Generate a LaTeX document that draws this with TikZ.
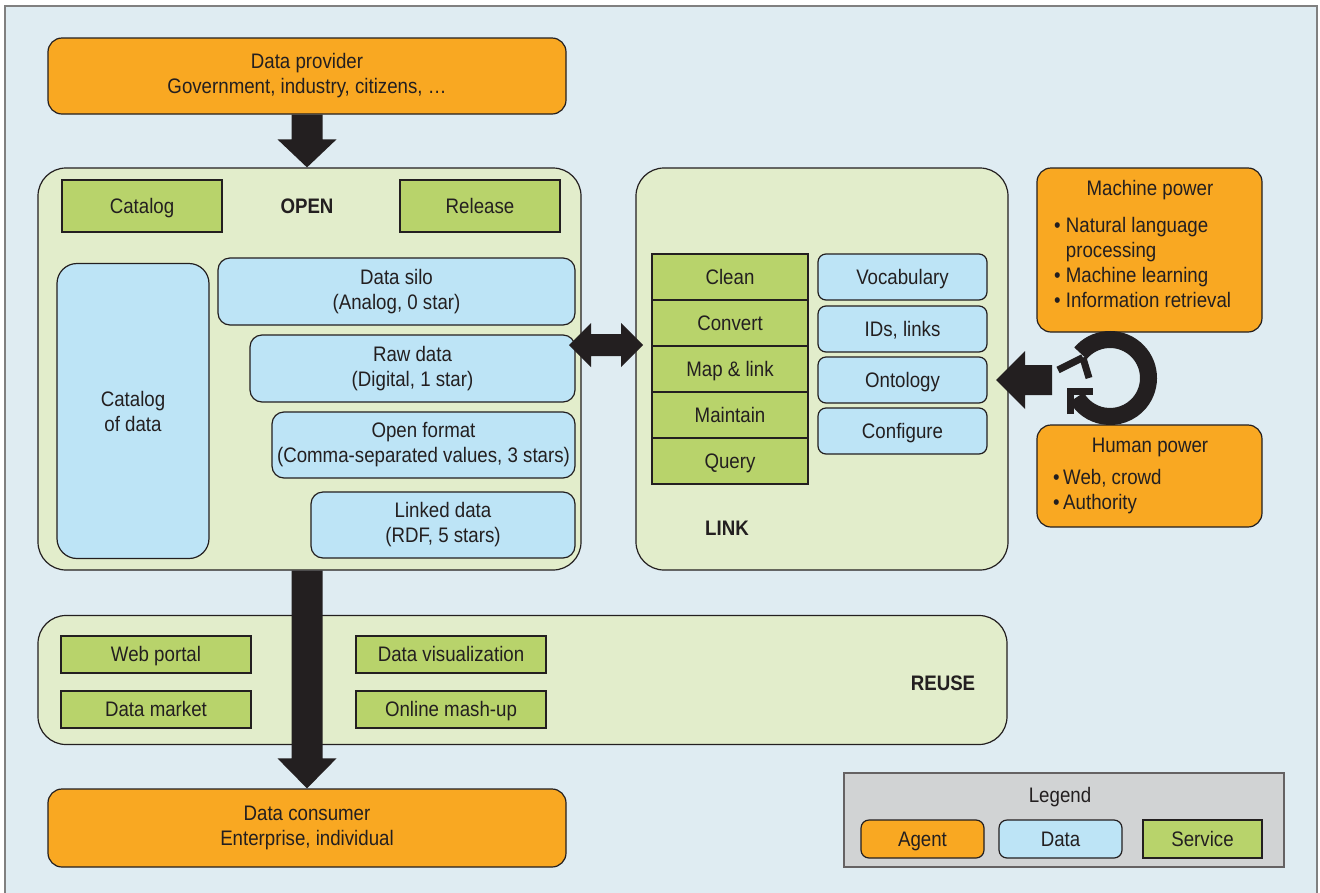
\documentclass[tikz,border=0pt]{standalone}
\usepackage{fontspec}
\setmainfont{Liberation Sans}[FakeStretch=0.89]
\usetikzlibrary{calc}
\definecolor{bgc}{HTML}{DFECF2}
\definecolor{agentc}{HTML}{F9A822}
\definecolor{datac}{HTML}{BDE4F6}
\definecolor{servc}{HTML}{B8D36B}
\definecolor{stagec}{HTML}{E2EDCB}
\definecolor{legendc}{HTML}{D1D3D4}
\definecolor{ink}{HTML}{231F20}
\tikzstyle{agent}=[rounded corners=14pt,draw=ink,fill=agentc,line width=1.2pt,align=center,inner sep=0pt]
\tikzstyle{databox}=[rounded corners=12pt,draw=ink,fill=datac,line width=1.2pt,align=center,inner sep=0pt]
\tikzstyle{service}=[draw=ink,fill=servc,line width=1.2pt,align=center,inner sep=0pt]
\tikzstyle{stage}=[rounded corners=28pt,draw=ink,fill=stagec,line width=1.2pt,inner sep=0pt]
\tikzstyle{oneline}=[text height=17pt,text depth=2.5pt]
\tikzstyle{title}=[font=\fontsize{21}{25}\selectfont\bfseries]

\begin{document}
\begin{tikzpicture}[x=1pt,y=-1pt,font=\fontsize{21}{25}\selectfont,text=ink]
		\useasboundingbox (0,0) rectangle (1320,892);
		\filldraw[fill=bgc,draw=gray,line width=1.2pt] (5,6) rectangle (1317,900);
		% agents
		\node[agent,minimum width=518pt,minimum height=76pt] (provider) at (307,76) {Data provider\\Government, industry, citizens, …};
		\node[agent,minimum width=518pt,minimum height=78pt] (consumer) at (307,828) {Data consumer\\Enterprise, individual};
		% open
		\node[stage,minimum width=543pt,minimum height=402pt] (open) at (309.5,369) {};
		\node[service,oneline,minimum width=160pt,minimum height=52pt] (catalog) at (142,206) {Catalog};
		\node[service,oneline,minimum width=160pt,minimum height=52pt] (release) at (480,206) {Release};
		\node[title,oneline] (openl) at (307,206) {OPEN};
		\node[databox,rounded corners=20pt,minimum width=152pt,minimum height=295pt] (catdata) at (133,411) {Catalog\\of data};
		\node[databox,minimum width=357pt,minimum height=67pt] (silo) at (396.5,291.5) {Data silo\\(Analog, 0 star)};
		\node[databox,minimum width=325pt,minimum height=67pt] (raw) at (412.5,368.5) {Raw data\\(Digital, 1 star)};
		\node[databox,minimum width=303pt,minimum height=66pt] (format) at (423.5,445) {Open format\\(Comma-separated values, 3 stars)};
		\node[databox,minimum width=264pt,minimum height=66pt] (linked) at (443,525) {Linked data\\(RDF, 5 stars)};
		% link
		\node[stage,minimum width=372pt,minimum height=402pt] (link) at (822,369) {};
		\foreach \name/\txt [count=\i from 0] in {clean/Clean,convert/Convert,map/Map \& link,maintain/Maintain,query/Query}
			\node[service,oneline,minimum width=156pt,minimum height=46pt] (\name) at (730,277+46*\i) {\txt};
		\node[databox,oneline,rounded corners=8pt,minimum width=169pt,minimum height=46pt] (vocab) at (902.5,277) {Vocabulary};
		\node[databox,oneline,rounded corners=8pt,minimum width=169pt,minimum height=46pt] (ids) at (902.5,329) {IDs, links};
		\node[databox,oneline,rounded corners=8pt,minimum width=169pt,minimum height=46pt] (onto) at (902.5,380) {Ontology};
		\node[databox,oneline,rounded corners=8pt,minimum width=169pt,minimum height=46pt] (config) at (902.5,431) {Configure};
		\node[title,oneline] (linkl) at (727,528) {LINK};
		% powers
		\node[agent,minimum width=225pt,minimum height=164pt] (machine) at (1149.5,250) {};
		\node[oneline] (machinet) at (1150,188) {Machine power};
		\node[align=left,inner sep=0pt,anchor=west] (machinel) at (1054,262) {• Natural language\\\phantom{• }processing\\• Machine learning\\• Information retrieval};
		\node[agent,minimum width=225pt,minimum height=102pt] (human) at (1149.5,476) {};
		\node[oneline] (humant) at (1150,445) {Human power};
		\node[align=left,inner sep=0pt,anchor=west] (humanl) at (1053,492) {•\,Web, crowd\\•\,Authority};
		% reuse
		\node[stage,minimum width=969pt,minimum height=129pt] (reuse) at (522.5,680) {};
		\node[service,oneline,minimum width=190pt,minimum height=37pt] (portal) at (156,654.5) {Web portal};
		\node[service,oneline,minimum width=190pt,minimum height=37pt] (market) at (156,709.5) {Data market};
		\node[service,oneline,minimum width=190pt,minimum height=37pt] (visual) at (451,654.5) {Data visualization};
		\node[service,oneline,minimum width=190pt,minimum height=37pt] (mashup) at (451,709.5) {Online mash-up};
		\node[title,oneline] (reusel) at (943,683) {REUSE};
		% legend
		\node[draw=ink!70,fill=legendc,line width=1.2pt,minimum width=440pt,minimum height=94pt] (legend) at (1064,820) {};
		\node[oneline] (legendt) at (1060,795) {Legend};
		\node[agent,oneline,rounded corners=8pt,minimum width=123pt,minimum height=38pt] (lagent) at (922.5,839) {Agent};
		\node[databox,oneline,rounded corners=8pt,minimum width=123pt,minimum height=38pt] (ldata) at (1060.5,839) {Data};
		\node[service,oneline,minimum width=119pt,minimum height=38pt] (lservice) at (1202.5,839) {Service};
		% arrows
		\fill[ink] ($(provider.south)+(-15.5,0)$) -- ($(provider.south |- open.north)+(-15.5,-28)$) -- ++(-14,0) -- (provider.south |- open.north) -- ++(29.5,-28) -- ++(-14,0) -- ($(provider.south)+(15.5,0)$) -- cycle;
		\fill[ink] ($(consumer.north |- open.south)+(-15.5,0)$) -- ($(consumer.north)+(-15.5,-30)$) -- ++(-14,0) -- (consumer.north) -- ++(29.5,-30) -- ++(-14,0) -- ($(consumer.north |- open.south)+(15.5,0)$) -- cycle;
		\coordinate (dl) at (569,345);
		\coordinate (dr) at (643,345);
		\fill[ink] (dl) -- ++(22,-22) -- ++(0,11) -- ($(dr)+(-22,-11)$) -- ++(0,-11) -- (dr) -- ++(-22,22) -- ++(0,-11) -- ($(dl)+(22,11)$) -- ++(0,11) -- cycle;
		\coordinate (ontin) at (996,380);
		\fill[ink] (ontin) -- ++(29,-29) -- ++(0,14) -- ++(27,0) -- ++(0,30) -- ++(-27,0) -- ++(0,14) -- cycle;
		\coordinate (loop) at (1110,378);
		\draw[ink,line width=17pt] ($(loop)+(-140:38.5)$) arc[start angle=-140,end angle=150,radius=38.5];
		\draw[ink,line width=7pt,line join=miter] (1070,414) -- (1070,391) -- (1093,391);
		\draw[ink,line width=7pt] ($(loop)+(-143:34)$) -- (1058,370);
		\draw[ink,line width=7pt] ($(loop)+(-143:34)$) -- (1089,378);
	\end{tikzpicture}
\end{document}
